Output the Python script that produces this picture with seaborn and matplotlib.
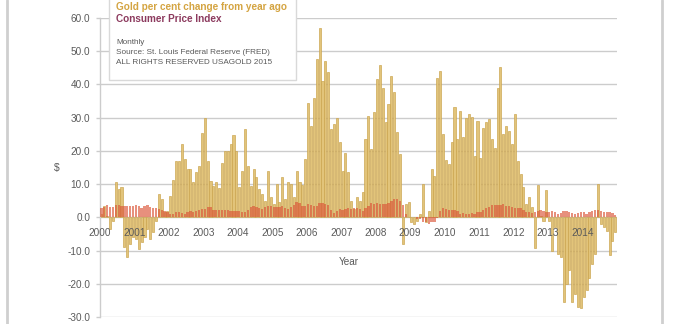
import numpy as np
import pandas as pd
import matplotlib
matplotlib.use("Agg")
import matplotlib.pyplot as plt
import seaborn as sns
from matplotlib.patches import Rectangle
from matplotlib.lines import Line2D

# Year labels along the zero line
years = list(range(2000, 2015))

# Gold, per cent change from a year earlier (monthly, Jan 2000 - Dec 2014)
gold_pct = [
    1.0, 3.5, 0.5, -3.5, -1.0, 10.5, 8.5, 9.0, -8.9, -11.9, -7.9, -6.0,
    -6.5, -9.4, -7.4, -5.9, -3.5, -6.4, -4.4, -1.0, 7.1, 5.6, 1.5, 2.0,
    6.5, 11.3, 17.0, 17.0, 22.0, 17.5, 14.5, 14.5, 10.5, 13.5, 15.5, 25.5,
    30.0, 17.0, 11.0, 9.5, 10.5, 8.7, 16.5, 20.0, 20.0, 22.0, 24.8, 20.0,
    9.0, 14.0, 26.5, 15.5, 9.5, 14.5, 12.0, 8.5, 7.0, 5.0, 14.0, 6.0,
    4.0, 10.0, 4.7, 12.2, 5.5, 10.5, 10.0, 6.0, 14.0, 10.5, 9.8, 17.7,
    34.5, 27.4, 35.8, 47.6, 57.0, 41.0, 47.0, 43.6, 26.6, 28.0, 30.0, 22.8,
    14.0, 19.4, 13.6, 5.0, 2.6, 6.0, 5.0, 7.6, 23.6, 30.6, 20.6, 31.6,
    41.6, 45.8, 39.0, 28.6, 34.0, 42.6, 37.6, 25.6, 19.0, -8.0, 4.0, 4.6,
    -1.5, -2.0, -1.0, 1.0, 10.0, -1.5, 2.0, 14.6, 12.3, 41.9, 44.0, 25.0,
    17.3, 16.0, 22.6, 33.3, 23.6, 32.0, 24.3, 30.0, 31.0, 30.3, 18.6, 29.0,
    18.0, 27.0, 28.6, 29.6, 23.6, 21.0, 39.0, 45.3, 25.0, 27.6, 26.0, 22.0,
    31.0, 17.0, 13.0, 9.0, 4.0, 6.0, 3.0, -9.1, 9.6, 0.5, -1.0, 8.1,
    -1.0, -10.0, -3.0, -11.0, -12.0, -25.4, -20.0, -16.0, -25.4, -23.0, -27.0, -27.4,
    -24.0, -22.0, -18.4, -14.0, -11.0, 10.0, -2.0, -3.0, -4.0, -11.4, -7.0, -4.4,
]

# Consumer Price Index, per cent change from a year earlier
cpi_pct = [
    2.7, 3.2, 3.8, 3.1, 3.2, 3.7, 3.7, 3.4, 3.5, 3.4, 3.4, 3.4,
    3.7, 3.5, 2.9, 3.3, 3.6, 3.2, 2.7, 2.7, 2.6, 2.1, 1.9, 1.6,
    1.1, 1.1, 1.5, 1.6, 1.2, 1.1, 1.5, 1.8, 1.5, 2.0, 2.2, 2.4,
    2.6, 3.0, 3.0, 2.2, 2.1, 2.1, 2.1, 2.2, 2.3, 2.0, 1.8, 1.9,
    1.9, 1.7, 1.7, 2.3, 3.1, 3.3, 3.0, 2.7, 2.5, 3.2, 3.5, 3.3,
    3.0, 3.0, 3.1, 3.5, 2.8, 2.5, 3.2, 3.6, 4.7, 4.3, 3.5, 3.4,
    4.0, 3.6, 3.4, 3.5, 4.2, 4.3, 4.1, 3.8, 2.1, 1.3, 2.0, 2.5,
    2.1, 2.4, 2.8, 2.6, 2.7, 2.7, 2.4, 2.0, 2.8, 3.5, 4.3, 4.1,
    4.3, 4.0, 4.0, 3.9, 4.2, 5.0, 5.6, 5.4, 4.9, 3.7, 1.1, 0.1,
    0.0, 0.2, -0.4, -0.6, -1.3, -1.4, -2.1, -1.5, -1.3, -0.2, 1.8, 2.7,
    2.6, 2.1, 2.3, 2.2, 2.0, 1.1, 1.2, 1.1, 1.1, 1.2, 1.1, 1.5,
    1.6, 2.1, 2.7, 3.2, 3.6, 3.6, 3.6, 3.8, 3.9, 3.5, 3.4, 3.0,
    2.9, 2.9, 2.7, 2.3, 1.7, 1.7, 1.4, 1.7, 2.0, 2.2, 1.8, 1.7,
    1.6, 2.0, 1.5, 1.1, 1.4, 1.8, 2.0, 1.5, 1.2, 1.0, 1.2, 1.5,
    1.6, 1.1, 1.5, 2.0, 2.1, 2.1, 2.0, 1.7, 1.7, 1.7, 1.3, 0.8,
]

y_ticks = [-30, -20, -10, 0, 10, 20, 30, 40, 50, 60]

GOLD_FACE = "#E2C47A"
GOLD_EDGE = "#C9A24A"
CPI_COLOR = "#DB5538"
GRID = "#CCCCCC"
TEXT = "#5A5A5A"

sns.set_theme(style="white")
plt.rcParams["font.family"] = ["Liberation Sans", "DejaVu Sans"]

W, H = 674, 324
fig = plt.figure(figsize=(W / 100, H / 100), dpi=100)
fig.patch.set_facecolor("white")
ax = fig.add_axes([100 / W, 1 - 317 / H, 517 / W, (317 - 18) / H])

df = pd.DataFrame({
    "month": np.arange(len(gold_pct)),
    "gold": gold_pct,
    "cpi": cpi_pct,
})

sns.barplot(data=df, x="month", y="gold", color=GOLD_FACE, saturation=1,
            width=0.72, edgecolor=GOLD_EDGE, linewidth=0.45,
            errorbar=None, ax=ax, zorder=2)
sns.barplot(data=df, x="month", y="cpi", color=CPI_COLOR, saturation=1,
            width=0.8, alpha=0.65, linewidth=0, errorbar=None, ax=ax, zorder=3)

ax.set_xlim(-0.5, len(gold_pct) - 0.4)
ax.set_ylim(-30, 60)
ax.set_yticks(y_ticks)
ax.set_yticklabels([f"{v:.1f}" for v in y_ticks])
ax.set_xticks([])
ax.set_xlabel("")
ax.yaxis.grid(True, color=GRID, linewidth=1.0)
ax.xaxis.grid(False)
ax.set_axisbelow(True)
for side in ("top", "right", "bottom"):
    ax.spines[side].set_visible(False)
ax.spines["left"].set_color(GRID)
ax.spines["left"].set_linewidth(1.0)
ax.tick_params(axis="y", length=3, width=1.0, color=GRID,
               labelsize=7.2, labelcolor=TEXT, pad=4, left=True)

ax.set_ylabel("$", rotation=0, fontsize=7.5, color=TEXT, ha="center", va="center")
ax.yaxis.set_label_coords(-0.083, 0.5)

# Year labels just under the zero line, at the start of each year
for i, yr in enumerate(years):
    ax.text(12 * i - 0.5, -4.8, str(yr), ha="center", va="center",
            fontsize=7.2, color=TEXT, zorder=5)
ax.text(86, -13.5, "Year", ha="center", va="center", fontsize=7.2,
        color=TEXT, zorder=5)

# Key box in the upper left corner
box = Rectangle((109 / W, 1 - 80 / H), (296 - 109) / W, 84 / H,
                transform=fig.transFigure, facecolor="white",
                edgecolor="#D9D9D9", linewidth=1.0, zorder=5)
fig.add_artist(box)
x0 = 116 / W
fig.text(x0, 1 - 7.5 / H, "Gold per cent change from year ago", fontsize=7.2,
         fontweight="bold", color="#D4A441", va="center", zorder=6)
fig.text(x0, 1 - 19.5 / H, "Consumer Price Index", fontsize=7.2,
         fontweight="bold", color="#8C3A5E", va="center", zorder=6)
fig.text(x0, 1 - 43 / H, "Monthly", fontsize=5.9, color=TEXT, va="center", zorder=6)
fig.text(x0, 1 - 52.5 / H, "Source: St. Louis Federal Reserve (FRED)",
         fontsize=5.9, color=TEXT, va="center", zorder=6)
fig.text(x0, 1 - 62 / H, "ALL RIGHTS RESERVED USAGOLD 2015",
         fontsize=5.9, color=TEXT, va="center", zorder=6)

# Outer frame lines on the left and right edges
for xp in (6.5, 661.5):
    fig.add_artist(Line2D([xp / W, xp / W], [0, 1], transform=fig.transFigure,
                          color="#CFCFCF", linewidth=2.0))

fig.savefig("out.png", dpi=100, facecolor="white")
